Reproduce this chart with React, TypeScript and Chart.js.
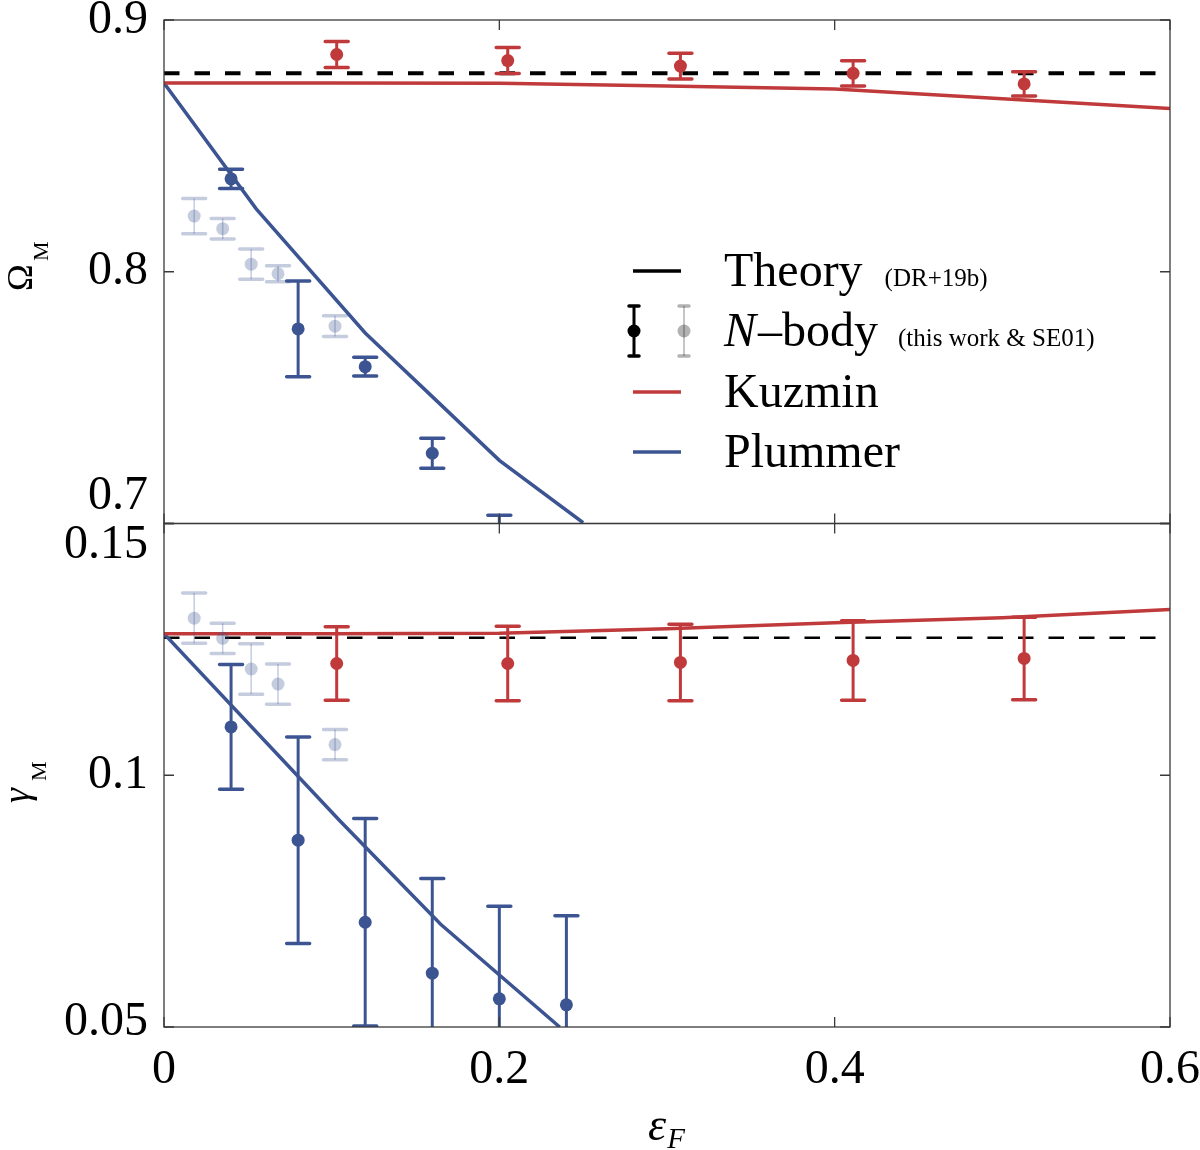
import { useEffect, useRef } from "react";
import { Chart, registerables } from "chart.js";

Chart.register(...registerables);

// softening values of the N-body runs
const epsKuzminRuns = [0.103, 0.205, 0.308, 0.411, 0.513];
const epsPlummerRuns = [0.04, 0.08, 0.12, 0.16, 0.2, 0.24];
const epsSE01 = [0.018, 0.035, 0.052, 0.068, 0.102];

// Omega_M (top panel)
const omegaKuzmin = [0.8863, 0.8839, 0.8817, 0.8788, 0.8746];
const omegaKuzminErr = [0.0052, 0.0052, 0.0051, 0.005, 0.0048];
const omegaPlummer = [0.8369, 0.7773, 0.7623, 0.7279, 0.695];
const omegaPlummerErr = [0.0038, 0.019, 0.0037, 0.006, 0.0083];
const omegaSE01 = [0.8221, 0.8171, 0.803, 0.7992, 0.7784];
const omegaSE01Err = [0.007, 0.0041, 0.006, 0.0032, 0.0041];

// gamma_M (bottom panel)
const gammaKuzmin = [0.1222, 0.1222, 0.1224, 0.1228, 0.1232];
const gammaKuzminErr = [0.0073, 0.0074, 0.0076, 0.0079, 0.0082];
const gammaPlummer = [0.1096, 0.0871, 0.0708, 0.0607, 0.0556, 0.0544];
const gammaPlummerErr = [0.0124, 0.0205, 0.0206, 0.0188, 0.0184, 0.0177];
const gammaSE01 = [0.1312, 0.1272, 0.1211, 0.1181, 0.1061];
const gammaSE01Err = [0.005, 0.003, 0.005, 0.004, 0.003];

// model curves
const kuzminModelEps = [0, 0.1, 0.2, 0.3, 0.4, 0.5, 0.6];
const kuzminOmegaModel = [0.875, 0.875, 0.8749, 0.8738, 0.8726, 0.8687, 0.8648];
const kuzminGammaModel = [0.1281, 0.1281, 0.1282, 0.1291, 0.1303, 0.1313, 0.1329];
const plummerOmegaEps = [0, 0.055, 0.12, 0.16, 0.2, 0.25];
const plummerOmegaModel = [0.875, 0.825, 0.7757, 0.7504, 0.7251, 0.7003];
const plummerGammaEps = [0, 0.105, 0.165, 0.236];
const plummerGammaModel = [0.1281, 0.0909, 0.0704, 0.05];

// theory (DR+19b)
const theoryEps = [0, 0.6];
const theoryOmega = [0.8788, 0.8788];
const theoryGamma = [0.1273, 0.1273];

// ticks
const xTicks = [0, 0.2, 0.4, 0.6];
const xTickLabels = ["0", "0.2", "0.4", "0.6"];
const omegaTicks = [0.7, 0.8, 0.9];
const omegaTickLabels = ["0.7", "0.8", "0.9"];
const gammaTicks = [0.05, 0.1, 0.15];
const gammaTickLabels = ["0.05", "0.1", "0.15"];

const RED = "#c03a3c";
const BLUE = "#3c5592";
const BLUE_FADED = "rgba(60, 85, 146, 0.3)";
const SERIF = '"Liberation Serif", "DejaVu Serif", serif';

const pts = (xs: number[], ys: number[]) => xs.map((x, i) => ({ x, y: ys[i] }));

const panelPlugin = {
  id: "panels",
  // keep every dataset inside its own panel
  beforeDatasetDraw(chart: any, args: any) {
    const ys = args.meta.yScale;
    const { left, right } = chart.chartArea;
    const ctx = chart.ctx;
    ctx.save();
    ctx.beginPath();
    ctx.rect(left, ys.top, right - left, ys.bottom - ys.top);
    ctx.clip();
  },
  afterDatasetDraw(chart: any) {
    chart.ctx.restore();
  },
  afterDatasetsDraw(chart: any) {
    const ctx = chart.ctx;
    const { left, right } = chart.chartArea;
    chart.data.datasets.forEach((ds: any, i: number) => {
      if (!ds.errors) return;
      const meta = chart.getDatasetMeta(i);
      const ys = chart.scales[ds.yAxisID];
      ctx.save();
      ctx.beginPath();
      ctx.rect(left, ys.top, right - left, ys.bottom - ys.top);
      ctx.clip();
      ctx.strokeStyle = ds.backgroundColor;
      ds.data.forEach((p: any, j: number) => {
        const x = meta.data[j].x;
        const yHi = ys.getPixelForValue(p.y + ds.errors[j]);
        const yLo = ys.getPixelForValue(p.y - ds.errors[j]);
        ctx.lineCap = "butt";
        ctx.lineWidth = ds.errLineWidth;
        ctx.beginPath();
        ctx.moveTo(x, yHi);
        ctx.lineTo(x, yLo);
        ctx.stroke();
        ctx.lineCap = "round";
        ctx.lineWidth = 3.5;
        ctx.beginPath();
        ctx.moveTo(x - 11.5, yHi);
        ctx.lineTo(x + 11.5, yHi);
        ctx.moveTo(x - 11.5, yLo);
        ctx.lineTo(x + 11.5, yLo);
        ctx.stroke();
      });
      ctx.restore();
    });
  },
  afterDraw(chart: any) {
    const ctx = chart.ctx;
    const { left, right } = chart.chartArea;
    const xs = chart.scales.x;
    const top = chart.scales.yTop;
    const bot = chart.scales.yBot;
    ctx.save();

    // frames and inward ticks
    ctx.strokeStyle = "#3a3a3a";
    ctx.lineWidth = 1.3;
    ctx.lineCap = "butt";
    const tl = 10;
    for (const [ys, ticks] of [
      [top, omegaTicks],
      [bot, gammaTicks],
    ] as [any, number[]][]) {
      ctx.strokeRect(left, ys.top, right - left, ys.bottom - ys.top);
      ctx.beginPath();
      xTicks.forEach((v) => {
        const px = xs.getPixelForValue(v);
        ctx.moveTo(px, ys.top);
        ctx.lineTo(px, ys.top + tl);
        ctx.moveTo(px, ys.bottom);
        ctx.lineTo(px, ys.bottom - tl);
      });
      ticks.forEach((v) => {
        const py = ys.getPixelForValue(v);
        ctx.moveTo(left, py);
        ctx.lineTo(left + tl, py);
        ctx.moveTo(right, py);
        ctx.lineTo(right - tl, py);
      });
      ctx.stroke();
    }

    // tick labels
    ctx.fillStyle = "#000";
    ctx.font = `48px ${SERIF}`;
    ctx.textAlign = "center";
    ctx.textBaseline = "middle";
    xTicks.forEach((v, i) => {
      ctx.fillText(xTickLabels[i], xs.getPixelForValue(v), 1070);
    });
    ctx.textAlign = "right";
    omegaTicks.forEach((v, i) => {
      const shift = i === 0 ? -27 : 0;
      ctx.fillText(omegaTickLabels[i], 148, top.getPixelForValue(v) + shift);
    });
    gammaTicks.forEach((v, i) => {
      const shift = i === gammaTicks.length - 1 ? 22 : i === 0 ? -5 : 0;
      ctx.fillText(gammaTickLabels[i], 148, bot.getPixelForValue(v) + shift);
    });

    // axis titles
    ctx.textAlign = "left";
    ctx.textBaseline = "alphabetic";
    ctx.save();
    ctx.translate(32, 291);
    ctx.rotate(-Math.PI / 2);
    ctx.font = `36px ${SERIF}`;
    ctx.fillText("Ω", 0, 0);
    ctx.font = `22px ${SERIF}`;
    ctx.fillText("M", 30, 16);
    ctx.restore();

    ctx.save();
    ctx.translate(29, 803);
    ctx.rotate(-Math.PI / 2);
    ctx.font = `italic 38px ${SERIF}`;
    ctx.fillText("γ", 0, 0);
    ctx.font = `22px ${SERIF}`;
    ctx.fillText("M", 22, 17);
    ctx.restore();

    ctx.font = `italic 46px ${SERIF}`;
    ctx.fillText("ε", 648, 1140);
    const ew = ctx.measureText("ε").width;
    ctx.font = `italic 29px ${SERIF}`;
    ctx.fillText("F", 648 + ew + 1, 1148);

    // legend
    const hx0 = 633;
    const hx1 = 681;
    const tx = 724;
    const rows = [271, 331, 392, 452];
    const big = `48px ${SERIF}`;
    const small = `25px ${SERIF}`;
    const line = (y: number, color: string) => {
      ctx.strokeStyle = color;
      ctx.lineWidth = 3.5;
      ctx.beginPath();
      ctx.moveTo(hx0, y);
      ctx.lineTo(hx1, y);
      ctx.stroke();
    };
    const errHandle = (x: number, y: number, color: string, lw: number) => {
      ctx.strokeStyle = color;
      ctx.fillStyle = color;
      ctx.lineWidth = lw;
      ctx.beginPath();
      ctx.moveTo(x, y - 25);
      ctx.lineTo(x, y + 25);
      ctx.stroke();
      ctx.lineWidth = 3.5;
      ctx.lineCap = "round";
      ctx.beginPath();
      ctx.moveTo(x - 5, y - 25);
      ctx.lineTo(x + 5, y - 25);
      ctx.moveTo(x - 5, y + 25);
      ctx.lineTo(x + 5, y + 25);
      ctx.stroke();
      ctx.lineCap = "butt";
      ctx.beginPath();
      ctx.arc(x, y, 6.5, 0, Math.PI * 2);
      ctx.fill();
    };

    line(rows[0], "#000");
    errHandle(634, rows[1], "#000", 3);
    errHandle(684, rows[1], "rgba(0,0,0,0.3)", 1.5);
    line(rows[2], RED);
    line(rows[3], BLUE);

    ctx.fillStyle = "#000";
    const base = (y: number) => y + 15;
    ctx.font = big;
    ctx.fillText("Theory", tx, base(rows[0]));
    let w = ctx.measureText("Theory").width;
    ctx.font = small;
    ctx.fillText("(DR+19b)", tx + w + 22, base(rows[0]));

    ctx.font = `italic 48px ${SERIF}`;
    ctx.fillText("N", tx, base(rows[1]));
    w = ctx.measureText("N").width;
    ctx.font = big;
    ctx.fillText("–body", tx + w + 2, base(rows[1]));
    w += 2 + ctx.measureText("–body").width;
    ctx.font = small;
    ctx.fillText("(this work & SE01)", tx + w + 20, base(rows[1]));

    ctx.font = big;
    ctx.fillText("Kuzmin", tx, base(rows[2]));
    ctx.fillText("Plummer", tx, base(rows[3]));

    ctx.restore();
  },
};

export default function App() {
  const canvasRef = useRef<HTMLCanvasElement>(null);

  useEffect(() => {
    if (!canvasRef.current) return;

    const modelLine = (xsv: number[], ysv: number[], axis: string, color: string) => ({
      type: "scatter" as const,
      data: pts(xsv, ysv),
      yAxisID: axis,
      showLine: true,
      borderColor: color,
      borderWidth: 3.5,
      pointRadius: 0,
      order: 2,
    });
    const theoryLine = (ysv: number[], axis: string, width: number) => ({
      type: "scatter" as const,
      data: pts(theoryEps, ysv),
      yAxisID: axis,
      showLine: true,
      borderColor: "#000",
      borderWidth: width,
      borderDash: [15.5, 15],
      pointRadius: 0,
      order: 3,
    });
    const runs = (
      xsv: number[],
      ysv: number[],
      err: number[],
      axis: string,
      color: string,
      errLineWidth: number
    ) => ({
      type: "scatter" as const,
      data: pts(xsv, ysv),
      errors: err,
      errLineWidth,
      yAxisID: axis,
      backgroundColor: color,
      borderColor: color,
      borderWidth: 0,
      pointRadius: 6.5,
      order: 1,
    });

    const chart = new Chart(canvasRef.current, {
      type: "scatter",
      data: {
        datasets: [
          runs(epsSE01, omegaSE01, omegaSE01Err, "yTop", BLUE_FADED, 1.5),
          runs(epsKuzminRuns, omegaKuzmin, omegaKuzminErr, "yTop", RED, 3),
          runs(epsPlummerRuns.slice(0, omegaPlummer.length), omegaPlummer, omegaPlummerErr, "yTop", BLUE, 3),
          runs(epsSE01, gammaSE01, gammaSE01Err, "yBot", BLUE_FADED, 1.5),
          runs(epsKuzminRuns, gammaKuzmin, gammaKuzminErr, "yBot", RED, 3),
          runs(epsPlummerRuns, gammaPlummer, gammaPlummerErr, "yBot", BLUE, 3),
          modelLine(kuzminModelEps, kuzminOmegaModel, "yTop", RED),
          modelLine(plummerOmegaEps, plummerOmegaModel, "yTop", BLUE),
          modelLine(kuzminModelEps, kuzminGammaModel, "yBot", RED),
          modelLine(plummerGammaEps, plummerGammaModel, "yBot", BLUE),
          theoryLine(theoryOmega, "yTop", 4),
          theoryLine(theoryGamma, "yBot", 2.5),
        ] as any,
      },
      options: {
        animation: false,
        responsive: true,
        maintainAspectRatio: false,
        layout: { padding: { left: 0, top: 20, right: 30, bottom: 0 } },
        plugins: {
          legend: { display: false },
          tooltip: { enabled: false },
        },
        scales: {
          x: {
            type: "linear",
            position: "bottom",
            min: 0,
            max: 0.6,
            grid: { display: false },
            border: { display: false },
            ticks: { display: false },
            afterFit: (s: any) => {
              s.height = 123;
            },
          },
          yTop: {
            type: "linear",
            position: "left",
            stack: "panels",
            stackWeight: 1,
            weight: 2,
            min: 0.7,
            max: 0.9,
            grid: { display: false },
            border: { display: false },
            ticks: { display: false },
            afterFit: (s: any) => {
              s.width = 164;
            },
          },
          yBot: {
            type: "linear",
            position: "left",
            stack: "panels",
            stackWeight: 1,
            weight: 1,
            min: 0.05,
            max: 0.15,
            grid: { display: false },
            border: { display: false },
            ticks: { display: false },
            afterFit: (s: any) => {
              s.width = 164;
            },
          },
        } as any,
      },
      plugins: [panelPlugin],
    });

    return () => chart.destroy();
  }, []);

  return (
    <div style={{ position: "absolute", left: 0, top: 0, width: 1200, height: 1150, background: "#fff" }}>
      <canvas ref={canvasRef}></canvas>
    </div>
  );
}
